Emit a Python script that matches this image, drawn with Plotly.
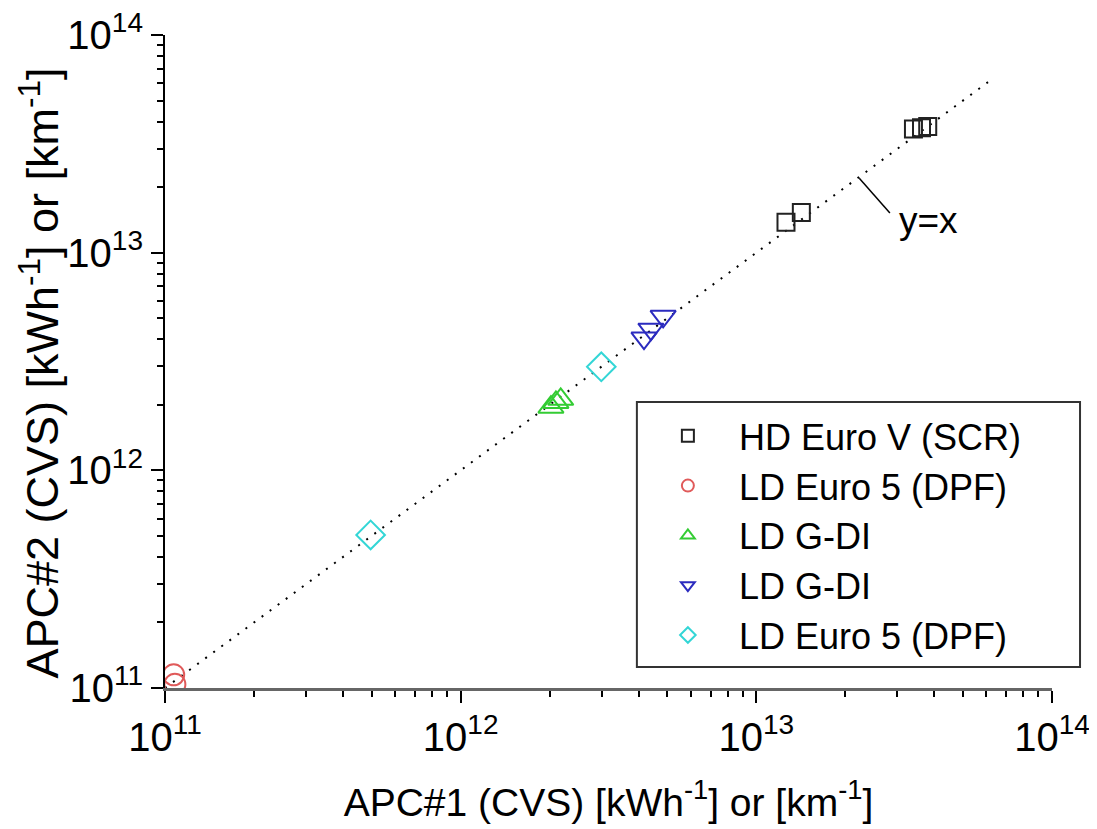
import plotly.graph_objects as go

# ---- data ----
hd_x = [1.26e13, 1.42e13, 3.40e13, 3.62e13, 3.80e13]
hd_y = [1.38e13, 1.53e13, 3.70e13, 3.75e13, 3.80e13]

ld5a_x = [1.07e11, 1.08e11]
ld5a_y = [1.15e11, 1.04e11]

gdi_up_x = [2.02e12, 2.10e12, 2.18e12]
gdi_up_y = [1.95e12, 2.05e12, 2.12e12]

gdi_dn_x = [4.17e12, 4.40e12, 4.84e12]
gdi_dn_y = [4.05e12, 4.45e12, 5.10e12]

ld5b_x = [4.96e11, 2.99e12]
ld5b_y = [5.05e11, 2.99e12]

line_x = [1.0e11, 6.3e13]  # y = x reference line extent
leader_x = [2.23e13, 2.83e13]
leader_y = [2.20e13, 1.52e13]

tick_vals = [1e11, 1e12, 1e13, 1e14]
tick_text = ["10<sup>11</sup>", "10<sup>12</sup>", "10<sup>13</sup>", "10<sup>14</sup>"]
minor_vals = [k * 10.0 ** e for e in (11, 12, 13) for k in range(2, 10)]

X_TITLE = "APC#1 (CVS) [kWh<sup>-1</sup>] or [km<sup>-1</sup>]"
Y_TITLE = "APC#2 (CVS) [kWh<sup>-1</sup>] or [km<sup>-1</sup>]"

FONT = "Liberation Sans, Arial, sans-serif"

fig = go.Figure()

fig.add_trace(go.Scatter(x=line_x, y=line_x, mode="lines",
                         line=dict(color="black", width=2, dash="2px,8px"),
                         showlegend=False, hoverinfo="skip"))

series = [
    ("HD Euro V (SCR)", hd_x, hd_y, "square-open", "#222222", 17),
    ("LD Euro 5 (DPF)", ld5a_x, ld5a_y, "circle-open", "#e05a5a", 21),
    ("LD G-DI", gdi_up_x, gdi_up_y, "triangle-up-open", "#33cc33", 22),
    ("LD G-DI", gdi_dn_x, gdi_dn_y, "triangle-down-open", "#2b2bbf", 22),
    ("LD Euro 5 (DPF)", ld5b_x, ld5b_y, "diamond-open", "#33d6d6", 22),
]
for name, xs, ys, sym, col, sz in series:
    fig.add_trace(go.Scatter(x=xs, y=ys, mode="markers", name=name,
                             marker=dict(symbol=sym, size=sz, color=col,
                                         line=dict(width=2, color=col))))

fig.add_trace(go.Scatter(x=leader_x, y=leader_y, mode="lines",
                         line=dict(color="black", width=1.5),
                         showlegend=False, hoverinfo="skip"))

fig.add_annotation(x=13.583, y=13.15, xref="x", yref="y", text="y=x",
                   showarrow=False, font=dict(family=FONT, size=37, color="black"))

# y-axis title as a rotated annotation (allows exact placement)
fig.add_annotation(x=-0.142, y=0.5, xref="paper", yref="paper", text=Y_TITLE,
                   textangle=-90, showarrow=False, xanchor="center", yanchor="middle",
                   yshift=-12, font=dict(family=FONT, size=45, color="black"))

# legend frame (drawn as a box so that it can be wider than its content)
fig.add_shape(type="rect", xref="paper", yref="paper",
              x0=0.532, x1=1.0316, y0=0.032, y1=0.438,
              line=dict(color="#333333", width=2), fillcolor="white", layer="below")

axis_common = dict(type="log", range=[11, 14.0001], tickmode="array",
                   tickvals=tick_vals, ticktext=tick_text, automargin=False,
                   ticklabeloverflow="allow",
                   ticks="outside", ticklen=12, tickwidth=2, tickcolor="black",
                   showgrid=False, zeroline=False, mirror=False,
                   tickfont=dict(family=FONT, size=40, color="black"),
                   minor=dict(tickmode="array", tickvals=minor_vals, ticks="outside",
                              ticklen=6, tickwidth=2, tickcolor="black", showgrid=False))

fig.update_xaxes(**axis_common, showline=True, linecolor="#666666", linewidth=3,
                 title=dict(text=X_TITLE,
                            font=dict(family=FONT, size=39, color="black"), standoff=31))
fig.update_yaxes(**axis_common, showline=True, linecolor="black", linewidth=2)

fig.update_layout(
    width=1097, height=829,
    margin=dict(l=157, r=53, t=27, b=149),
    paper_bgcolor="white", plot_bgcolor="white",
    font=dict(family=FONT, color="black"),
    legend=dict(x=0.532, y=0.432, xanchor="left", yanchor="top",
                bgcolor="rgba(0,0,0,0)", borderwidth=0,
                font=dict(family=FONT, size=36, color="black"),
                itemsizing="constant", itemwidth=92, tracegroupgap=0),
    showlegend=True,
)

fig.write_html("out.html")
